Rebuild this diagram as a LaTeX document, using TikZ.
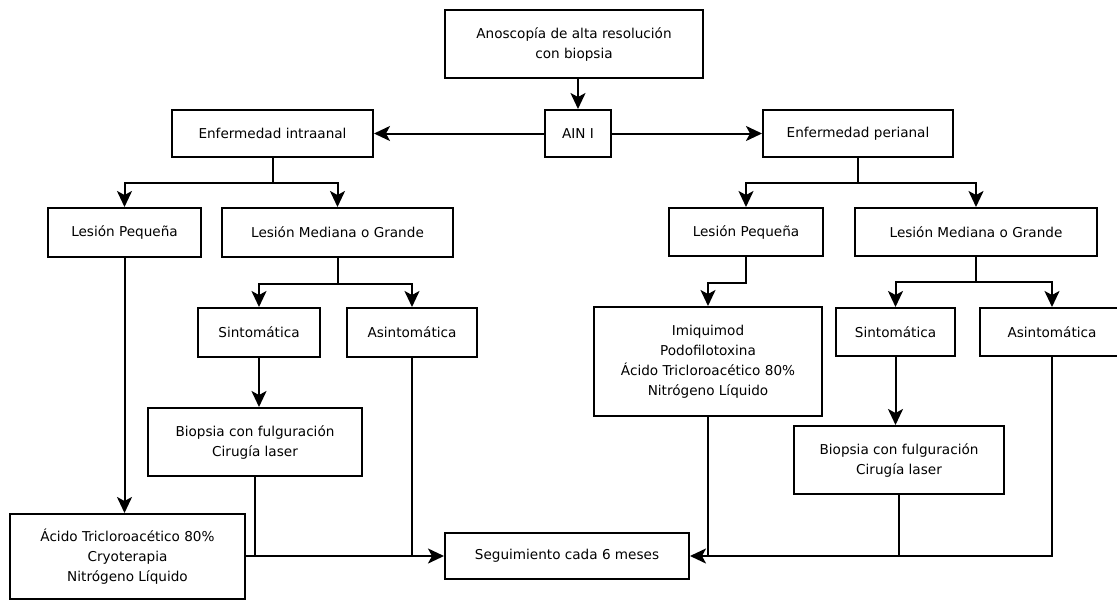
\documentclass[tikz,border=0pt]{standalone}
\usepackage{fontspec}
\setmainfont{DejaVu Sans}
\usetikzlibrary{arrows.meta}

\begin{document}
\begin{tikzpicture}[x=1pt, y=-1pt, line width=2pt,
		caja/.style={draw, align=center, inner sep=0pt,
			font=\fontsize{13.6}{20}\selectfont},
		flecha/.style={-{Stealth[length=16pt, width=15pt, inset=4pt]}}]
	\useasboundingbox (0,0) rectangle (1117,600);

	% cabecera
	\node[caja, minimum width=258, minimum height=68] (anosc) at (574,44) {Anoscopía de alta resolución\\con biopsia};
	\node[caja, minimum width=66, minimum height=47] (ain) at (578,133.5) {AIN I};
	\node[caja, minimum width=201, minimum height=47] (intra) at (272.5,133.5) {Enfermedad intraanal};
	\node[caja, minimum width=190, minimum height=47] (peri) at (858,133.5) {Enfermedad perianal};

	% rama intraanal
	\node[caja, minimum width=153, minimum height=49] (peqI) at (124.5,232.5) {Lesión Pequeña};
	\node[caja, minimum width=231, minimum height=49] (medI) at (337.5,232.5) {Lesión Mediana o Grande};
	\node[caja, minimum width=122, minimum height=49] (sintI) at (259,332.5) {Sintomática};
	\node[caja, minimum width=130, minimum height=49] (asintI) at (412,332.5) {Asintomática};
	\node[caja, minimum width=214, minimum height=68] (bioI) at (255,442) {Biopsia con fulguración\\Cirugía laser};
	\node[caja, minimum width=235, minimum height=85] (acido) at (127.5,556.5) {Ácido Tricloroacético 80\%\\Cryoterapia\\Nitrógeno Líquido};

	% seguimiento
	\node[caja, minimum width=244, minimum height=46] (seg) at (567,556) {Seguimiento cada 6 meses};

	% rama perianal
	\node[caja, minimum width=154, minimum height=48] (peqP) at (746,232) {Lesión Pequeña};
	\node[caja, minimum width=242, minimum height=48] (medP) at (976,232) {Lesión Mediana o Grande};
	\node[caja, minimum width=228, minimum height=109] (imiq) at (708,361.5) {Imiquimod\\Podofilotoxina\\Ácido Tricloroacético 80\%\\Nitrógeno Líquido};
	\node[caja, minimum width=119, minimum height=48] (sintP) at (895.5,332) {Sintomática};
	\node[caja, minimum width=144, minimum height=48] (asintP) at (1052,332) {Asintomática};
	\node[caja, minimum width=210, minimum height=68] (bioP) at (899,460) {Biopsia con fulguración\\Cirugía laser};

	% flechas de arriba
	\draw[flecha] (anosc.south -| ain) -- (ain.north);
	\draw[flecha] (ain.west) -- (intra.east);
	\draw[flecha] (ain.east) -- (peri.west);

	% intraanal
	\draw (intra.south) -- ++(0,25) coordinate (ramaI);
	\draw[flecha] (ramaI) -| (peqI.north);
	\draw[flecha] (ramaI) -| (medI.north);
	\draw (medI.south) -- ++(0,26) coordinate (ramaMI);
	\draw[flecha] (ramaMI) -| (sintI.north);
	\draw[flecha] (ramaMI) -| (asintI.north);
	\draw[flecha] (sintI.south) -- (sintI.south |- bioI.north);
	\draw[flecha] (peqI.south) -- (peqI.south |- acido.north);

	% perianal
	\draw (peri.south) -- ++(0,25) coordinate (ramaP);
	\draw[flecha] (ramaP) -| (peqP.north);
	\draw[flecha] (ramaP) -| (medP.north);
	\draw[flecha] (peqP.south) -- ++(0,26) -| (imiq.north);
	\draw (medP.south) -- ++(0,25) coordinate (ramaMP);
	\draw[flecha] (ramaMP) -| (sintP.north);
	\draw[flecha] (ramaMP) -| (asintP.north);
	\draw[flecha] (sintP.south) -- (sintP.south |- bioP.north);

	% hacia el seguimiento
	\draw[flecha] (acido.east |- seg) -- (seg.west);
	\draw (bioI.south) -- (bioI.south |- seg);
	\draw (asintI.south) -- (asintI.south |- seg);
	\draw[flecha] (asintP.south) |- (seg.east);
	\draw (bioP.south) -- (bioP.south |- seg);
	\draw (imiq.south) -- (imiq.south |- seg);
\end{tikzpicture}
\end{document}
